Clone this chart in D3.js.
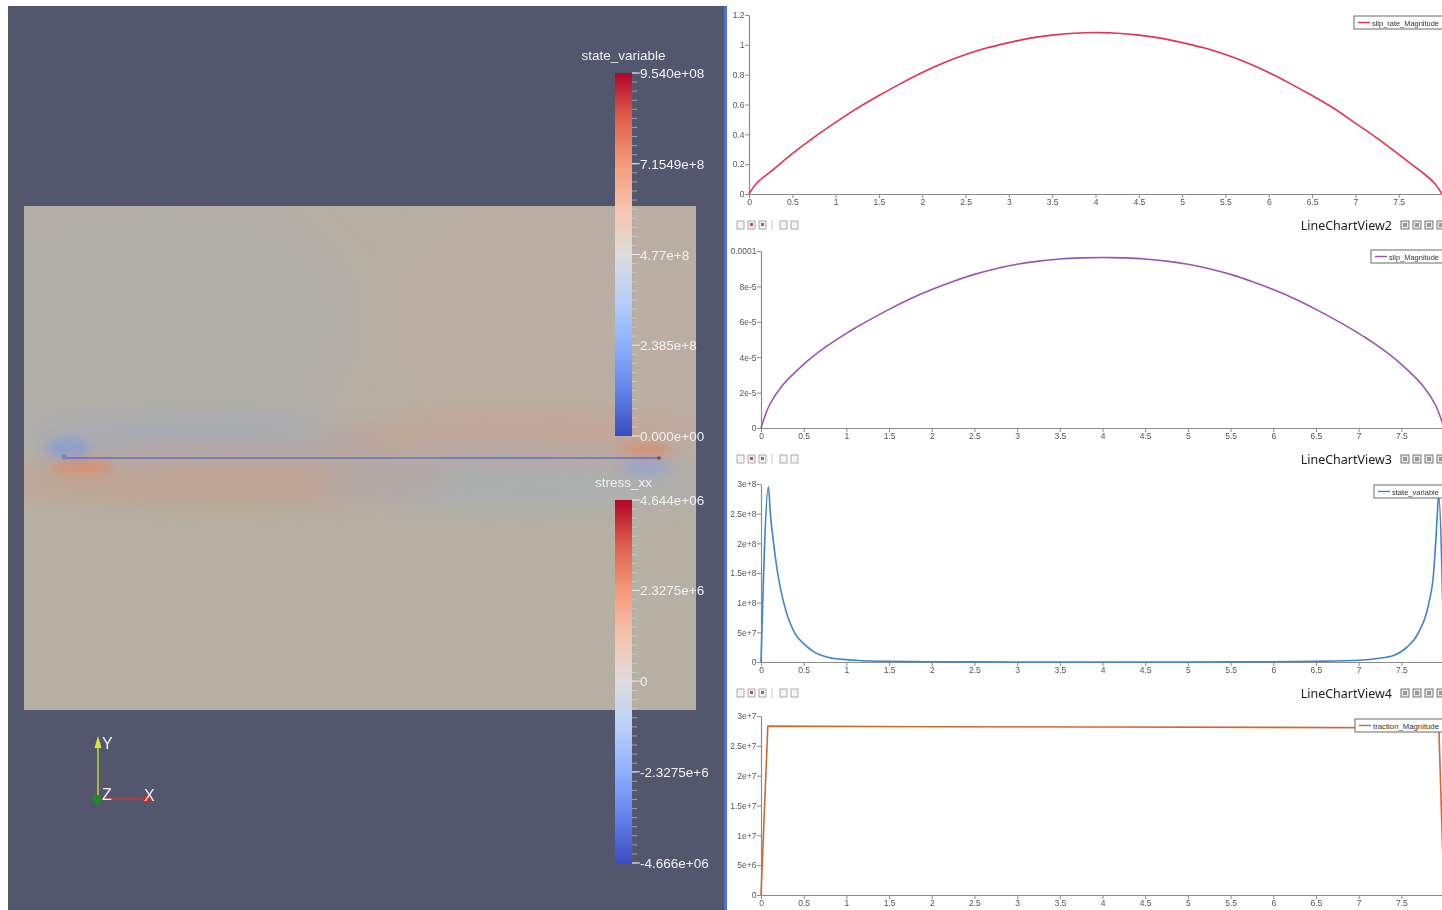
<!DOCTYPE html>
<html>
<head>
<meta charset="utf-8">
<script src="https://cdn.jsdelivr.net/npm/d3@7"></script>
<style>
  html, body { margin: 0; padding: 0; background: #ffffff; }
  svg { display: block; }
</style>
</head>
<body>
<svg id="view" width="1442" height="910"></svg>
<script>
// ---------------- data ----------------
// positions along the fault (x)
const faultX = [0, 0.1, 0.25, 0.5, 0.75, 1, 1.25, 1.5, 1.75, 2, 2.25, 2.5, 2.75, 3, 3.25, 3.5, 3.75, 4,
                4.25, 4.5, 4.75, 5, 5.25, 5.5, 5.75, 6, 6.25, 6.5, 6.75, 7, 7.25, 7.5, 7.75, 7.9, 8];
const slipRateMagnitude = [0, 0.08, 0.15, 0.27, 0.38, 0.48, 0.575, 0.66, 0.74, 0.815, 0.88, 0.935, 0.98, 1.015, 1.045, 1.065, 1.078, 1.083,
                           1.078, 1.065, 1.045, 1.015, 0.98, 0.935, 0.88, 0.815, 0.74, 0.66, 0.575, 0.475, 0.375, 0.265, 0.155, 0.08, 0];
const slipMagnitude = [0, 1.3e-5, 2.4e-5, 3.6e-5, 4.55e-5, 5.35e-5, 6.05e-5, 6.7e-5, 7.3e-5, 7.82e-5, 8.28e-5, 8.68e-5, 9.0e-5, 9.25e-5, 9.43e-5, 9.55e-5, 9.61e-5, 9.63e-5,
                       9.61e-5, 9.55e-5, 9.43e-5, 9.25e-5, 9.0e-5, 8.68e-5, 8.28e-5, 7.82e-5, 7.3e-5, 6.7e-5, 6.05e-5, 5.35e-5, 4.55e-5, 3.6e-5, 2.4e-5, 1.3e-5, 0];

const stateX = [0, 0.087, 0.11, 0.148, 0.195, 0.266, 0.39, 0.5, 0.62, 0.78, 1, 1.5, 2, 3, 4, 5, 6, 6.5, 7,
                7.214, 7.41, 7.566, 7.703, 7.824, 7.878, 7.902, 7.922, 7.937, 8];
const stateVariable = [0, 2.95e8, 2.5e8, 2.0e8, 1.5e8, 1.0e8, 0.5e8, 0.31e8, 0.17e8, 0.08e8, 0.04e8, 0.01e8, 0.004e8, 0.001e8, 0.0008e8, 0.001e8, 0.004e8, 0.012e8, 0.03e8,
                       0.06e8, 0.11e8, 0.25e8, 0.5e8, 1.0e8, 1.5e8, 2.0e8, 2.5e8, 2.8e8, 0];

const tractionX = [0, 0.08, 2, 4, 6, 7.94, 8];
const tractionMagnitude = [0, 2.83e7, 2.82e7, 2.815e7, 2.81e7, 2.8e7, 0];

// tick labels
const xTickValues = [0, 0.5, 1, 1.5, 2, 2.5, 3, 3.5, 4, 4.5, 5, 5.5, 6, 6.5, 7, 7.5];
const rateTicks = [0, 0.2, 0.4, 0.6, 0.8, 1, 1.2];
const rateTickLabels = ["0", "0.2", "0.4", "0.6", "0.8", "1", "1.2"];
const slipTicks = [0, 2e-5, 4e-5, 6e-5, 8e-5, 1e-4];
const slipTickLabels = ["0", "2e-5", "4e-5", "6e-5", "8e-5", "0.0001"];
const stateTicks = [0, 5e7, 1e8, 1.5e8, 2e8, 2.5e8, 3e8];
const stateTickLabels = ["0", "5e+7", "1e+8", "1.5e+8", "2e+8", "2.5e+8", "3e+8"];
const tractionTicks = [0, 5e6, 1e7, 1.5e7, 2e7, 2.5e7, 3e7];
const tractionTickLabels = ["0", "5e+6", "1e+7", "1.5e+7", "2e+7", "2.5e+7", "3e+7"];

// color legend ranges and labels
const stateRange = [0, 9.54e8];
const stateLegendValues = [9.54e8, 7.1549e8, 4.77e8, 2.385e8, 0];
const stateLegendLabels = ["9.540e+08", "7.1549e+8", "4.77e+8", "2.385e+8", "0.000e+00"];
const stressRange = [-4.666e6, 4.644e6];
const stressLegendValues = [4.644e6, 2.3275e6, 0, -2.3275e6, -4.666e6];
const stressLegendLabels = ["4.644e+06", "2.3275e+6", "0", "-2.3275e+6", "-4.666e+06"];

// cool-to-warm diverging map
const coolWarm = ["#3b4cc0", "#6282ea", "#8db0fe", "#b8d0f9", "#dddddd", "#f5c4ad", "#f49a7b", "#de604d", "#b40426"];

// ---------------- drawing ----------------
const svg = d3.select("#view");
const defs = svg.append("defs");

// ===== 3D render view (left) =====
svg.append("rect").attr("x", 8).attr("y", 6).attr("width", 716).attr("height", 904).attr("fill", "#52576e");

defs.append("clipPath").attr("id", "domainClip")
  .append("rect").attr("x", 24).attr("y", 206).attr("width", 672).attr("height", 504);
const blur = defs.append("filter").attr("id", "soft").attr("x", "-50%").attr("y", "-50%").attr("width", "200%").attr("height", "200%");
blur.append("feGaussianBlur").attr("stdDeviation", 14);
const blurSmall = defs.append("filter").attr("id", "softSmall").attr("x", "-50%").attr("y", "-50%").attr("width", "200%").attr("height", "200%");
blurSmall.append("feGaussianBlur").attr("stdDeviation", 5);

const domain = svg.append("g").attr("clip-path", "url(#domainClip)");
domain.append("rect").attr("x", 24).attr("y", 206).attr("width", 672).attr("height", 504).attr("fill", "#b6b0a4");

// broad stress field shading around the fault
const field = domain.append("g").attr("filter", "url(#soft)");
field.append("ellipse").attr("cx", 600).attr("cy", 320).attr("rx", 220).attr("ry", 150).attr("fill", "#c7a99a").attr("opacity", 0.25);
field.append("ellipse").attr("cx", 160).attr("cy", 320).attr("rx", 200).attr("ry", 140).attr("fill", "#a9adb3").attr("opacity", 0.25);
field.append("ellipse").attr("cx", 200).attr("cy", 440).attr("rx", 190).attr("ry", 26).attr("fill", "#9aabc6").attr("opacity", 0.4);
field.append("ellipse").attr("cx", 230).attr("cy", 480).attr("rx", 220).attr("ry", 30).attr("fill", "#cf967c").attr("opacity", 0.4);
field.append("ellipse").attr("cx", 510).attr("cy", 438).attr("rx", 190).attr("ry", 26).attr("fill", "#cf9c86").attr("opacity", 0.38);
field.append("ellipse").attr("cx", 510).attr("cy", 480).attr("rx", 190).attr("ry", 30).attr("fill", "#9badc6").attr("opacity", 0.38);

const tips = domain.append("g").attr("filter", "url(#softSmall)");
tips.append("ellipse").attr("cx", 68).attr("cy", 448).attr("rx", 22).attr("ry", 10).attr("fill", "#839bd4").attr("opacity", 0.75);
tips.append("ellipse").attr("cx", 82).attr("cy", 467).attr("rx", 30).attr("ry", 9).attr("fill", "#dc8c64").attr("opacity", 0.65);
tips.append("ellipse").attr("cx", 646).attr("cy", 450).attr("rx", 24).attr("ry", 8).attr("fill", "#dc8c64").attr("opacity", 0.65);
tips.append("ellipse").attr("cx", 646).attr("cy", 467).attr("rx", 24).attr("ry", 9).attr("fill", "#8aa2d4").attr("opacity", 0.6);

// the fault
svg.append("line").attr("x1", 62).attr("x2", 660).attr("y1", 458).attr("y2", 458)
  .attr("stroke", "#6270b8").attr("stroke-width", 1.6);
svg.append("circle").attr("cx", 64).attr("cy", 457).attr("r", 2.5).attr("fill", "#7088d0");
svg.append("circle").attr("cx", 659).attr("cy", 458).attr("r", 1.8).attr("fill", "#8a4a3a");

// color legends
function colorLegend(id, title, range, values, labels, top, bottom) {
  const x0 = 615, w = 17;
  const grad = defs.append("linearGradient").attr("id", id).attr("x1", 0).attr("y1", 1).attr("x2", 0).attr("y2", 0);
  coolWarm.forEach((c, i) => grad.append("stop").attr("offset", i / (coolWarm.length - 1)).attr("stop-color", c));
  const y = d3.scaleLinear().domain(range).range([bottom, top]);
  const g = svg.append("g");
  g.append("rect").attr("x", x0).attr("y", top).attr("width", w).attr("height", bottom - top).attr("fill", `url(#${id})`);
  // minor ticks
  const minor = d3.range(0, 41).map(i => top + i * (bottom - top) / 40);
  g.selectAll("line.minor").data(minor).join("line").attr("class", "minor")
    .attr("x1", x0 + w).attr("x2", x0 + w + 5).attr("y1", d => d).attr("y2", d => d)
    .attr("stroke", "#d8d8de").attr("stroke-width", 1).attr("opacity", 0.55);
  g.selectAll("line.major").data(values).join("line").attr("class", "major")
    .attr("x1", x0 + w).attr("x2", x0 + w + 8).attr("y1", d => y(d)).attr("y2", d => y(d))
    .attr("stroke", "#e8e8ee").attr("stroke-width", 1);
  g.selectAll("text.lab").data(values).join("text").attr("class", "lab")
    .attr("x", x0 + w + 8).attr("y", d => y(d) + 5)
    .attr("font-family", "Liberation Sans, Arial, sans-serif").attr("font-size", 13.5)
    .attr("fill", "#f0f0f2")
    .text((d, i) => labels[i]);
  g.append("text").attr("x", x0 + w / 2).attr("y", top - 13).attr("text-anchor", "middle")
    .attr("font-family", "Liberation Sans, Arial, sans-serif").attr("font-size", 13.5)
    .attr("fill", "#f0f0f2").text(title);
}
colorLegend("gradState", "state_variable", stateRange, stateLegendValues, stateLegendLabels, 73, 436);
colorLegend("gradStress", "stress_xx", stressRange, stressLegendValues, stressLegendLabels, 500, 863);

// orientation axes
const tri = svg.append("g");
tri.append("line").attr("x1", 98).attr("y1", 798).attr("x2", 98).attr("y2", 746).attr("stroke", "#c8c83a").attr("stroke-width", 1.6);
tri.append("path").attr("d", "M98,736 L94.5,748 L101.5,748 Z").attr("fill", "#e0e040");
tri.append("line").attr("x1", 98).attr("y1", 799).attr("x2", 144).attr("y2", 799).attr("stroke", "#c83232").attr("stroke-width", 1.6);
tri.append("path").attr("d", "M154,799 L143,795 L143,803 Z").attr("fill", "#e02020");
tri.append("circle").attr("cx", 97.5).attr("cy", 799.5).attr("r", 4.5).attr("fill", "#1e8a2a");
const triFont = { "font-family": "Liberation Sans, Arial, sans-serif", "font-size": 16, "fill": "#f0f0f4" };
[["Y", 102, 749], ["Z", 102, 800], ["X", 144, 801]].forEach(([t, x, y]) => {
  const el = tri.append("text").attr("x", x).attr("y", y).text(t);
  Object.entries(triFont).forEach(([k, v]) => el.attr(k, v));
});

// view separator
svg.append("rect").attr("x", 724).attr("y", 6).attr("width", 3).attr("height", 904).attr("fill", "#4d6fd6");

// ===== line chart views (right) =====
defs.append("clipPath").attr("id", "chartClip")
  .append("rect").attr("x", 728).attr("y", 0).attr("width", 714).attr("height", 910);
const charts = svg.append("g").attr("clip-path", "url(#chartClip)");
charts.append("rect").attr("x", 728).attr("y", 0).attr("width", 714).attr("height", 910).attr("fill", "#ffffff");

const tickFont = "Liberation Sans, Arial, sans-serif";

function lineChart(cfg) {
  const x = d3.scaleLinear().domain([0, 8]).range([cfg.left, cfg.right]);
  const y = d3.scaleLinear().domain(cfg.yDomain).range([cfg.bottom, cfg.top]);
  const g = charts.append("g");

  const ya = g.append("g").attr("transform", `translate(${cfg.left},0)`)
    .call(d3.axisLeft(y).tickValues(cfg.yTicks).tickFormat((d, i) => cfg.yLabels[i]).tickSize(4).tickSizeOuter(0));
  const xa = g.append("g").attr("transform", `translate(0,${cfg.bottom})`)
    .call(d3.axisBottom(x).tickValues(xTickValues).tickFormat(d => String(d)).tickSize(4).tickSizeOuter(0));
  [ya, xa].forEach(a => {
    a.select(".domain").attr("stroke", "#8c8c8c").attr("stroke-width", 1.2);
    a.selectAll(".tick line").attr("stroke", "#8c8c8c");
    a.selectAll(".tick text").attr("font-family", tickFont).attr("font-size", 8.5).attr("fill", "#555555");
  });
  ya.selectAll(".tick text").attr("x", -4.5).attr("dy", "0.33em");
  xa.selectAll(".tick text").attr("y", 5);

  const line = d3.line().x(d => x(d[0])).y(d => y(d[1])).curve(cfg.curve);
  g.append("path").datum(cfg.xs.map((v, i) => [v, cfg.ys[i]]))
    .attr("d", line).attr("fill", "none").attr("stroke", cfg.color).attr("stroke-width", 1.6)
    .attr("stroke-linejoin", "round");

  // legend box, running into the right edge of the view
  const lg = g.append("g");
  lg.append("rect").attr("x", cfg.legendX).attr("y", cfg.legendY).attr("width", 110).attr("height", 13)
    .attr("fill", "#ffffff").attr("stroke", "#5a5a5a").attr("stroke-width", 0.9);
  lg.append("line").attr("x1", cfg.legendX + 4).attr("x2", cfg.legendX + 16)
    .attr("y1", cfg.legendY + 6.5).attr("y2", cfg.legendY + 6.5).attr("stroke", cfg.color).attr("stroke-width", 1.4);
  lg.append("text").attr("x", cfg.legendX + 18).attr("y", cfg.legendY + 9.5)
    .attr("font-family", tickFont).attr("font-size", 7).attr("fill", "#333")
    .attr("textLength", 1439 - (cfg.legendX + 18)).attr("lengthAdjust", "spacingAndGlyphs")
    .text(cfg.legend);
}

function viewHeader(y, name) {
  const g = charts.append("g");
  // tool icons on the left
  [737, 748, 759, 780, 791].forEach((px, i) => {
    g.append("rect").attr("x", px).attr("y", y - 4).attr("width", 7).attr("height", 8)
      .attr("fill", "#f4f4f4").attr("stroke", "#9a9a9a").attr("stroke-width", 0.8);
    if (i === 1) g.append("rect").attr("x", px + 2).attr("y", y - 2).attr("width", 3).attr("height", 3).attr("fill", "#d04a4a");
    if (i === 2) g.append("rect").attr("x", px + 2).attr("y", y - 2).attr("width", 3).attr("height", 3).attr("fill", "#7a7a7a");
  });
  g.append("line").attr("x1", 772).attr("x2", 772).attr("y1", y - 5).attr("y2", y + 5).attr("stroke", "#c8c8c8");
  g.append("text").attr("x", 1392).attr("y", y + 5).attr("text-anchor", "end")
    .attr("font-family", "Noto Sans, Open Sans, sans-serif").attr("font-size", 12.5).attr("fill", "#202020")
    .text(name);
  [1401, 1413, 1425, 1437].forEach(px => {
    g.append("rect").attr("x", px).attr("y", y - 4).attr("width", 8).attr("height", 8)
      .attr("fill", "#e8e8e8").attr("stroke", "#6a6a6a").attr("stroke-width", 0.9);
    g.append("rect").attr("x", px + 2).attr("y", y - 2).attr("width", 4).attr("height", 4).attr("fill", "#9a9a9a");
  });
}

lineChart({ left: 749, right: 1442, top: 15, bottom: 194, yDomain: [0, 1.2], yTicks: rateTicks, yLabels: rateTickLabels,
  xs: faultX, ys: slipRateMagnitude, color: "#e83050", curve: d3.curveCatmullRom.alpha(0.5),
  legend: "slip_rate_Magnitude", legendX: 1354, legendY: 16 });
viewHeader(225, "LineChartView2");
lineChart({ left: 761, right: 1444, top: 251, bottom: 428, yDomain: [0, 1e-4], yTicks: slipTicks, yLabels: slipTickLabels,
  xs: faultX, ys: slipMagnitude, color: "#9a55b0", curve: d3.curveCatmullRom.alpha(0.5),
  legend: "slip_Magnitude", legendX: 1371, legendY: 250 });
viewHeader(459, "LineChartView3");
lineChart({ left: 761, right: 1444, top: 484, bottom: 662, yDomain: [0, 3e8], yTicks: stateTicks, yLabels: stateTickLabels,
  xs: stateX, ys: stateVariable, color: "#3f85c8", curve: d3.curveMonotoneX,
  legend: "state_variable", legendX: 1374, legendY: 485 });
viewHeader(693, "LineChartView4");
lineChart({ left: 761, right: 1444, top: 716, bottom: 895, yDomain: [0, 3e7], yTicks: tractionTicks, yLabels: tractionTickLabels,
  xs: tractionX, ys: tractionMagnitude, color: "#cc6a36", curve: d3.curveLinear,
  legend: "traction_Magnitude", legendX: 1355, legendY: 719 });
</script>
</body>
</html>
